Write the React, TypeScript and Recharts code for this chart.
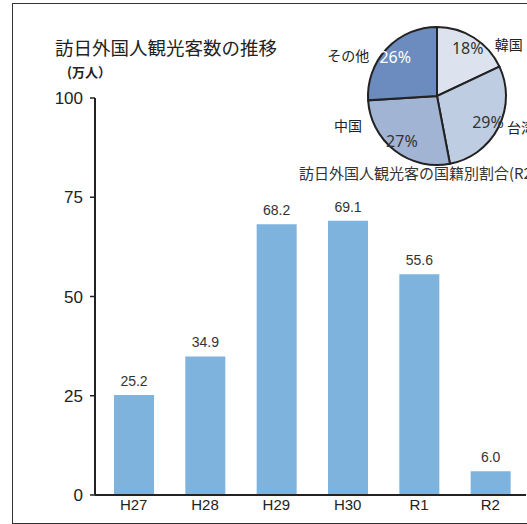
import { BarChart, Bar, XAxis, YAxis, LabelList, PieChart, Pie, Cell } from 'recharts'

const YEARS = ['H27', 'H28', 'H29', 'H30', 'R1', 'R2']
const VISITORS = [25.2, 34.9, 68.2, 69.1, 55.6, 6.0]
const Y_TICKS = [0, 25, 50, 75, 100]

const COUNTRIES = ['韓国', '台湾', '中国', 'その他']
const SHARES = [18, 29, 27, 26]
const PIE_COLORS = ['#dde3ee', '#bfcde2', '#a2b4d4', '#6c8bbe']

const barData = YEARS.map((year, i) => ({ year, value: VISITORS[i] }))
const pieData = COUNTRIES.map((name, i) => ({ name, value: SHARES[i] }))

const RAD = Math.PI / 180
// country names sit beside the percentage, shifted like the original excel layout
const NAME_SHIFT = [
  [41, -4],
  [33, 5],
  [-54, -16],
  [-47, -2],
]

function PieLabel({ cx, cy, midAngle, outerRadius, index, value, name }: any) {
  const r = outerRadius * 0.83
  const x = cx + r * Math.cos(-midAngle * RAD)
  const y = cy + r * Math.sin(-midAngle * RAD)
  const [dx, dy] = NAME_SHIFT[index]
  return (
    <g>
      <text
        x={x}
        y={y}
        textAnchor="middle"
        dominantBaseline="central"
        fontSize={16}
        fill={index === 3 ? '#ffffff' : '#333'}
        fontFamily="Noto Sans, sans-serif"
      >
        {value}%
      </text>
      <text
        x={x + dx}
        y={y + dy}
        textAnchor="middle"
        dominantBaseline="central"
        fontSize={14}
        fill="#222"
        fontFamily="Noto Sans CJK JP, sans-serif"
      >
        {name}
      </text>
    </g>
  )
}

export default function App() {
  return (
    <div
      style={{
        position: 'absolute',
        left: 0,
        top: 0,
        width: 527,
        height: 524,
        overflow: 'hidden',
        background: '#fff',
        fontFamily: 'Liberation Sans, Arial, sans-serif',
      }}
    >
      <div
        style={{
          position: 'absolute',
          left: 12,
          top: 3,
          width: 540,
          height: 519,
          border: '1.5px solid #333',
        }}
      />
      <div
        style={{
          position: 'absolute',
          left: 55,
          top: 35,
          fontSize: 18.5,
          color: '#222',
          fontFamily: 'Noto Sans CJK JP, sans-serif',
          lineHeight: '24px',
          whiteSpace: 'nowrap',
        }}
      >
        訪日外国人観光客数の推移
      </div>
      <div
        style={{
          position: 'absolute',
          left: 67,
          top: 63,
          fontSize: 13,
          fontWeight: 'bold',
          color: '#222',
          fontFamily: 'Noto Sans CJK JP, sans-serif',
          lineHeight: '18px',
          whiteSpace: 'nowrap',
        }}
      >
        (万人）
      </div>
      <div style={{ position: 'absolute', left: 0, top: 0 }}>
        <BarChart
          width={527}
          height={524}
          data={barData}
          margin={{ top: 98, right: 1, bottom: 0, left: 0 }}
        >
          <XAxis
            dataKey="year"
            axisLine={{ stroke: '#222', strokeWidth: 2 }}
            tickLine={false}
            tickSize={0}
            tickMargin={4}
            padding={{ left: 3, right: 0 }}
            tick={{ fontSize: 15, fill: '#222' }}
            height={29}
          />
          <YAxis
            domain={[0, 100]}
            ticks={Y_TICKS}
            interval={0}
            width={95}
            axisLine={{ stroke: '#222', strokeWidth: 2 }}
            tickLine={{ stroke: '#222', strokeWidth: 1.5 }}
            tickSize={5}
            tickMargin={7}
            tick={{ fontSize: 17, fill: '#222' }}
          />
          <Bar dataKey="value" fill="#7db3dd" barSize={40} isAnimationActive={false}>
            <LabelList
              dataKey="value"
              position="top"
              offset={9}
              fontSize={14}
              fill="#333"
              formatter={(v: any) => Number(v).toFixed(1)}
            />
          </Bar>
        </BarChart>
      </div>
      <div style={{ position: 'absolute', left: 322, top: 0 }}>
        <PieChart width={205} height={190}>
          <Pie
            data={pieData}
            dataKey="value"
            nameKey="name"
            cx={110}
            cy={91}
            outerRadius={69}
            startAngle={90}
            endAngle={-270}
            stroke="#222"
            strokeWidth={2}
            labelLine={false}
            label={PieLabel}
            isAnimationActive={false}
          >
            {pieData.map((d, i) => (
              <Cell key={d.name} fill={PIE_COLORS[i]} />
            ))}
          </Pie>
        </PieChart>
      </div>
      <div
        style={{
          position: 'absolute',
          left: 299,
          top: 163,
          fontSize: 15,
          color: '#333',
          fontFamily: 'Noto Sans CJK JP, sans-serif',
          lineHeight: '20px',
          whiteSpace: 'nowrap',
        }}
      >
        訪日外国人観光客の国籍別割合(R2)
      </div>
    </div>
  )
}
